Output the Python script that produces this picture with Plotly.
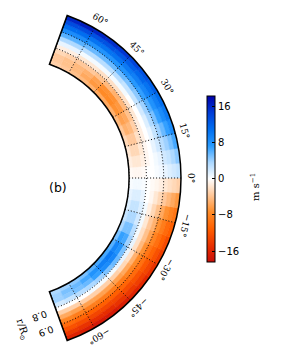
import numpy as np
import plotly.graph_objects as go

# ---------------- data ----------------
lat_centers = [-67.5, -62.5, -57.5, -52.5, -47.5, -42.5, -37.5, -32.5, -27.5, -22.5,
               -17.5, -12.5, -7.5, -2.5, 2.5, 7.5, 12.5, 17.5, 22.5, 27.5,
               32.5, 37.5, 42.5, 47.5, 52.5, 57.5, 62.5, 67.5]
lat_width = 5.0
r_inner_edges = [0.700, 0.725, 0.750, 0.775, 0.800, 0.825,
                 0.850, 0.875, 0.900, 0.925, 0.950, 0.975]
r_width = 0.025

# southern hemisphere rows (lat -67.5 ... -2.5), inner -> outer radius, m/s
vel_south = [
    [3.5, 4.0, 4.0, 2.0, 0.0, -3.0, -5.5, -8.0, -10.0, -12.0, -14.0, -16.0],
    [4.0, 5.0, 4.5, 2.5, 0.0, -3.0, -6.0, -8.5, -10.5, -12.5, -14.5, -16.5],
    [4.5, 5.5, 5.0, 3.0, 0.0, -3.0, -6.0, -8.5, -11.0, -13.0, -15.0, -17.0],
    [5.0, 6.5, 5.5, 3.5, 0.5, -3.0, -6.0, -8.5, -11.0, -13.0, -15.0, -17.0],
    [6.0, 8.0, 7.0, 4.0, 0.5, -3.0, -6.0, -8.5, -11.0, -13.0, -14.5, -16.5],
    [6.5, 9.5, 8.5, 5.0, 0.5, -3.0, -6.0, -8.5, -10.5, -12.5, -14.0, -16.0],
    [6.5, 10.0, 9.0, 5.5, 1.0, -2.5, -5.5, -8.0, -10.0, -12.0, -13.5, -15.5],
    [6.0, 9.0, 8.0, 5.0, 1.0, -2.0, -5.0, -7.5, -9.5, -11.5, -13.0, -14.5],
    [5.0, 7.0, 6.5, 4.0, 1.0, -2.0, -4.5, -7.0, -9.0, -10.5, -12.0, -13.5],
    [3.5, 5.0, 5.0, 3.0, 0.5, -2.0, -4.0, -6.0, -8.0, -9.5, -11.0, -12.5],
    [2.5, 3.5, 3.5, 2.0, 0.5, -1.5, -3.5, -5.0, -7.0, -8.5, -10.0, -11.0],
    [1.5, 2.5, 2.5, 1.5, 0.5, -1.0, -2.5, -4.0, -5.5, -7.0, -8.0, -9.0],
    [1.0, 1.5, 1.5, 1.0, 0.0, -0.5, -1.5, -2.5, -3.5, -4.5, -5.5, -6.5],
    [0.3, 0.5, 0.5, 0.3, 0.0, -0.3, -0.6, -1.0, -1.5, -2.0, -2.5, -3.0],
]
# northern hemisphere rows (lat 2.5 ... 67.5), inner -> outer radius, m/s
vel_north = [
    [-0.3, -0.5, -0.5, -0.3, 0.0, 0.0, 0.3, 0.6, 1.0, 1.5, 2.0, 2.5],
    [-1.0, -1.5, -1.5, -1.0, -0.5, 0.0, 0.5, 1.0, 2.0, 2.5, 3.5, 4.5],
    [-1.5, -2.5, -2.5, -1.5, -0.5, 0.0, 1.0, 2.0, 3.0, 4.0, 5.0, 6.5],
    [-2.5, -3.5, -3.5, -2.0, -1.0, 0.0, 1.0, 2.5, 4.0, 5.5, 7.0, 8.5],
    [-3.5, -5.0, -4.5, -3.0, -1.0, 0.0, 1.5, 3.5, 5.0, 7.0, 8.5, 10.0],
    [-4.5, -6.0, -5.5, -4.0, -1.5, 0.0, 2.0, 4.0, 6.0, 8.0, 9.5, 11.0],
    [-5.0, -7.0, -6.5, -4.5, -2.0, 0.0, 2.5, 4.5, 7.0, 9.0, 10.5, 12.0],
    [-5.5, -7.5, -7.0, -5.0, -2.0, 0.5, 2.5, 5.0, 7.5, 9.5, 11.5, 13.0],
    [-5.5, -7.5, -7.0, -4.5, -2.0, 0.5, 3.0, 5.5, 8.0, 10.0, 12.0, 14.0],
    [-5.0, -6.5, -6.0, -4.0, -2.0, 0.5, 3.0, 5.5, 8.0, 10.5, 12.5, 15.0],
    [-4.5, -5.5, -5.0, -3.5, -1.5, 0.5, 3.0, 5.5, 8.0, 10.5, 13.0, 15.5],
    [-4.0, -4.5, -4.5, -3.5, -1.5, 0.5, 3.0, 5.5, 8.0, 10.5, 13.0, 16.0],
    [-3.5, -4.0, -4.0, -3.0, -1.0, 1.0, 3.5, 6.0, 8.5, 11.0, 13.5, 16.5],
    [-3.0, -3.5, -3.5, -2.5, -1.0, 1.0, 3.5, 6.0, 8.5, 11.0, 13.5, 16.0],
]

lat_ticks = [-60, -45, -30, -15, 0, 15, 30, 45, 60]
r_ticks = [0.8, 0.9]
r_range = [0.7, 1.0]
lat_range = [-70, 70]
cbar_ticks = [-16, -8, 0, 8, 16]
cbar_range = [-18.3, 18.3]

# ---------------- figure ----------------
PAD = 8                      # default page (body) margin of the html page
W, H = 287 - PAD, 360 - PAD  # figure size so the page is exactly filled
R_PX = 173.0                 # outer radius in pixels
CX_PAGE, CY_PAGE = PAD + 0.0, 178.0

dy_bbox = 2 * np.sin(np.deg2rad(lat_range[1]))
cy_fig = CY_PAGE - PAD
dom_x = [0.0, R_PX / W]
half_h = R_PX * dy_bbox / 2 + 0.6
dom_y = [1 - (cy_fig + half_h) / H, 1 - (cy_fig - half_h) / H]


def page_to_paper(px, py):
    return (px - PAD) / W, 1 - (py - PAD) / H


colorscale = [
    [0.00, 'rgb(200,15,10)'],
    [0.08, 'rgb(228,40,0)'],
    [0.20, 'rgb(255,95,0)'],
    [0.30, 'rgb(255,140,40)'],
    [0.40, 'rgb(255,198,150)'],
    [0.50, 'rgb(255,255,255)'],
    [0.60, 'rgb(170,215,255)'],
    [0.70, 'rgb(40,155,255)'],
    [0.80, 'rgb(0,110,240)'],
    [0.90, 'rgb(0,60,215)'],
    [1.00, 'rgb(0,0,170)'],
]

rows = vel_south + vel_north
thetas, bases, vals = [], [], []
for lat, row in zip(lat_centers, rows):
    for rb, v in zip(r_inner_edges, row):
        thetas.append(lat)
        bases.append(rb)
        vals.append(v)

cb_x, cb_y = page_to_paper(207, 178.7)
fig = go.Figure()
fig.add_trace(go.Barpolar(
    theta=thetas, base=bases, r=[r_width] * len(vals), width=[lat_width] * len(vals),
    marker=dict(
        color=vals, colorscale=colorscale, cmin=cbar_range[0], cmax=cbar_range[1],
        line=dict(color=vals, colorscale=colorscale, cmin=cbar_range[0],
                  cmax=cbar_range[1], width=0.6),
        showscale=True,
        colorbar=dict(
            x=cb_x, xanchor='left', xpad=0, ypad=0,
            y=cb_y, yanchor='middle', len=166 / H, lenmode='fraction',
            thickness=8, outlinewidth=1, outlinecolor='black',
            tickvals=cbar_ticks,
            ticktext=[str(t).replace('-', '\u2212') for t in cbar_ticks],
            ticks='inside', ticklen=3, tickcolor='black',
            tickfont=dict(family='DejaVu Sans', size=10, color='black'),
        ),
    ),
    hoverinfo='skip', showlegend=False,
))

arc_theta = np.linspace(lat_range[0], lat_range[1], 281)
dot = dict(color='black', width=1, dash='1px,2px')
# dotted radial circles (including inner boundary)
for rv in [r_range[0]] + r_ticks:
    fig.add_trace(go.Scatterpolar(theta=arc_theta, r=[rv] * len(arc_theta), mode='lines',
                                  line=dot, hoverinfo='skip', showlegend=False))
# dotted latitude lines
for lt in lat_ticks:
    fig.add_trace(go.Scatterpolar(theta=[lt, lt], r=r_range, mode='lines',
                                  line=dot, hoverinfo='skip', showlegend=False))
# solid sector edges
for lt in lat_range:
    fig.add_trace(go.Scatterpolar(theta=[lt, lt], r=r_range, mode='lines',
                                  line=dict(color='black', width=1.2),
                                  hoverinfo='skip', showlegend=False))

fig.update_layout(
    width=W, height=H, autosize=False,
    margin=dict(l=0, r=0, t=0, b=0),
    paper_bgcolor='white', plot_bgcolor='white',
    polar=dict(
        domain=dict(x=dom_x, y=dom_y),
        sector=lat_range, hole=r_range[0],
        bgcolor='white',
        radialaxis=dict(range=r_range, showgrid=False, showticklabels=False,
                        showline=False, ticks=''),
        angularaxis=dict(showgrid=False, showticklabels=False, ticks='',
                         showline=True, linecolor='black', linewidth=1.5,
                         direction='counterclockwise', rotation=0),
    ),
)

ann = []
for lt in lat_ticks:
    t = np.deg2rad(lt)
    px = CX_PAGE + R_PX * 1.058 * np.cos(t)
    py = CY_PAGE - R_PX * 1.058 * np.sin(t)
    x, y = page_to_paper(px, py)
    lab = (str(lt).replace('-', '\u2212')) + '\u00b0'
    ann.append(dict(x=x, y=y, xref='paper', yref='paper', text=lab, showarrow=False,
                    textangle=90 - lt, xanchor='center', yanchor='middle',
                    font=dict(family='DejaVu Serif', size=9, color='black')))

te = np.deg2rad(lat_range[0])
ex, ey = np.cos(te), -np.sin(te)     # edge direction (screen coords, inner->outer)
onx, ony = -ey, ex                   # outward normal (left/down)
for rv in r_ticks:
    px = CX_PAGE + R_PX * rv * np.cos(te) + 17 * onx + 2 * ex
    py = CY_PAGE - R_PX * rv * np.sin(te) + 17 * ony + 2 * ey
    x, y = page_to_paper(px, py)
    ann.append(dict(x=x, y=y, xref='paper', yref='paper', text=str(rv), showarrow=False,
                    textangle=160, xanchor='center', yanchor='middle',
                    font=dict(family='DejaVu Sans', size=9.5, color='black')))

for txt, (px, py), ang, fam, size in [
    ('r/R<sub>\u2299</sub>', (22.5, 329), 72, 'DejaVu Serif', 10),
    ('(b)', (58, 187.5), 0, 'DejaVu Sans', 12.5),
    ('m s<sup>\u22121</sup>', (255, 187), -90, 'DejaVu Serif', 10),
]:
    x, y = page_to_paper(px, py)
    ann.append(dict(x=x, y=y, xref='paper', yref='paper', text=txt, showarrow=False,
                    textangle=ang, xanchor='center', yanchor='middle',
                    font=dict(family=fam, size=size, color='black')))
fig.update_layout(annotations=ann)

fig.write_html("out.html")
